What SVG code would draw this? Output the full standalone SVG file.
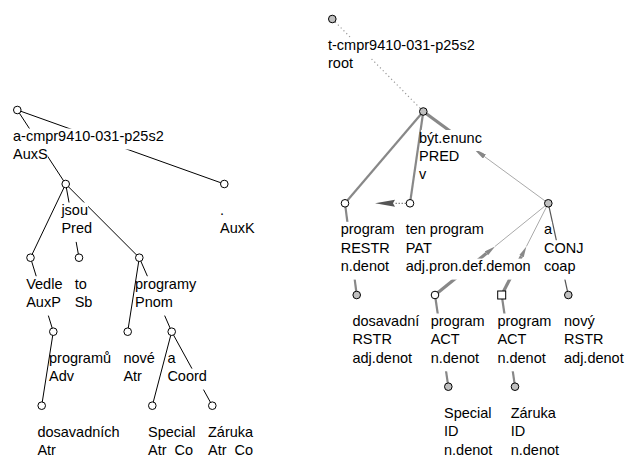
<svg xmlns="http://www.w3.org/2000/svg" width="625" height="457" viewBox="0 0 625 457">
<style>
.t{font-family:"Liberation Sans",Arial,sans-serif;font-size:14.5px;fill:#000}
.bg{fill:#fff}
.n{stroke:#000;stroke-width:1}
.w{fill:#fff}
.g{fill:#c0c0c0}
.e{stroke:#000;stroke-width:1;fill:none}
.te{stroke:#888;stroke-width:2.2;fill:none}
.thk{stroke:#888;stroke-width:3.2;fill:none}
.thn{stroke:#aaa;stroke-width:1;fill:none}
</style>
<defs>
<marker id="arw" viewBox="0 0 14 5" refX="0" refY="2.5" markerWidth="14" markerHeight="5" markerUnits="userSpaceOnUse" orient="auto"><path d="M0,0 L14,2.5 L0,5 Z" fill="#888"/></marker>
<marker id="arw2" viewBox="0 0 11 5" refX="0" refY="2.5" markerWidth="11" markerHeight="5" markerUnits="userSpaceOnUse" orient="auto"><path d="M0,0 L11,2.5 L0,5 Z" fill="#888"/></marker>
</defs>
<rect width="625" height="457" fill="#fff"/>
<g id="connectors">
<path class="e" d="M17.3,110 L65.7,184"/>
<path class="e" d="M17.3,110 L224.3,184"/>
<path class="e" d="M65.7,184 L30.5,257.7"/>
<path class="e" d="M65.7,184 L79,257.7"/>
<path class="e" d="M65.7,184 L139.3,257.7"/>
<path class="e" d="M30.5,257.7 L53.3,331.7"/>
<path class="e" d="M53.3,331.7 L41.7,405.7"/>
<path class="e" d="M139.3,257.7 L127.7,331.7"/>
<path class="e" d="M139.3,257.7 L171.7,331.7"/>
<path class="e" d="M171.7,331.7 L152.3,405.7"/>
<path class="e" d="M171.7,331.7 L212.3,405.7"/>
<path d="M332.3,19 L423.3,111.5" stroke="#999" stroke-width="1.2" stroke-dasharray="1.2,2.8" fill="none"/>
<path class="te" d="M423.3,111.5 L345,203.3"/>
<path class="te" d="M423.3,111.5 L410,203.3"/>
<path class="te" d="M345,203.3 L356.7,295"/>
<path class="te" d="M435,295 L448.3,386.7"/>
<path class="te" d="M501.7,295 L515,386.7"/>
<path d="M548.3,203.3 L568.3,295" stroke="#555" stroke-width="1.2" fill="none"/>
<path class="thk" d="M423.3,111.5 L468,144.3"/>
<path class="thn" d="M548.3,203.3 L484.5,156.6" marker-end="url(#arw)"/>
<path class="thn" d="M548.3,203.3 L495,246.4"/>
<path class="thk" d="M435,295 L486.5,253.3" marker-end="url(#arw2)"/>
<path class="thn" d="M548.3,203.3 L526.4,246.5"/>
<path class="thk" d="M501.7,295 L521.4,256.3" marker-end="url(#arw2)"/>
<path d="M406,203.3 L395,203.3" stroke="#888" stroke-width="1.2" stroke-dasharray="1.5,1.5" fill="none"/>
<polygon points="375,203.3 395,199.8 393,203.3 395,206.8" fill="#555"/>
</g>
<g id="a-root">
<rect class="bg" x="15" y="128.5" width="148.7" height="21"/><rect class="bg" x="15" y="146.9" width="32.7" height="21"/>
<text class="t" x="13" y="141">a-cmpr9410-031-p25s2</text><text class="t" x="13" y="159.4">AuxS</text>
<circle class="n w" cx="17.3" cy="110" r="3.8"/>
</g>
<g id="a-jsou">
<rect class="bg" x="63.4" y="202.5" width="24.6" height="21"/><rect class="bg" x="63.4" y="220.9" width="28.6" height="21"/>
<text class="t" x="61.4" y="215">jsou</text><text class="t" x="61.4" y="233.4">Pred</text>
<circle class="n w" cx="65.7" cy="184" r="3.8"/>
</g>
<g id="a-auxk">
<rect class="bg" x="222" y="202.5" width="2" height="21"/><rect class="bg" x="222" y="220.9" width="32.7" height="21"/>
<text class="t" x="220" y="215">.</text><text class="t" x="220" y="233.4">AuxK</text>
<circle class="n w" cx="224.3" cy="184" r="3.8"/>
</g>
<g id="a-vedle">
<rect class="bg" x="28.2" y="276.2" width="35.1" height="21"/><rect class="bg" x="28.2" y="294.6" width="32.7" height="21"/>
<text class="t" x="26.2" y="288.7">Vedle</text><text class="t" x="26.2" y="307.1">AuxP</text>
<circle class="n w" cx="30.5" cy="257.7" r="3.8"/>
</g>
<g id="a-to">
<rect class="bg" x="76.7" y="276.2" width="10.1" height="21"/><rect class="bg" x="76.7" y="294.6" width="15.7" height="21"/>
<text class="t" x="74.7" y="288.7">to</text><text class="t" x="74.7" y="307.1">Sb</text>
<circle class="n w" cx="79" cy="257.7" r="3.8"/>
</g>
<g id="a-programy">
<rect class="bg" x="137" y="276.2" width="59.2" height="21"/><rect class="bg" x="137" y="294.6" width="35.9" height="21"/>
<text class="t" x="135" y="288.7">programy</text><text class="t" x="135" y="307.1">Pnom</text>
<circle class="n w" cx="139.3" cy="257.7" r="3.8"/>
</g>
<g id="a-programu">
<rect class="bg" x="51" y="350.2" width="60" height="21"/><rect class="bg" x="51" y="368.6" width="23" height="21"/>
<text class="t" x="49" y="362.7">programů</text><text class="t" x="49" y="381.1">Adv</text>
<circle class="n w" cx="53.3" cy="331.7" r="3.8"/>
</g>
<g id="a-nove">
<rect class="bg" x="125.4" y="350.2" width="30.2" height="21"/><rect class="bg" x="125.4" y="368.6" width="16.5" height="21"/>
<text class="t" x="123.4" y="362.7">nové</text><text class="t" x="123.4" y="381.1">Atr</text>
<circle class="n w" cx="127.7" cy="331.7" r="3.8"/>
</g>
<g id="a-a">
<rect class="bg" x="169.4" y="350.2" width="6.1" height="21"/><rect class="bg" x="169.4" y="368.6" width="37.5" height="21"/>
<text class="t" x="167.4" y="362.7">a</text><text class="t" x="167.4" y="381.1">Coord</text>
<circle class="n w" cx="171.7" cy="331.7" r="3.8"/>
</g>
<g id="a-dosavadnich">
<rect class="bg" x="39.4" y="424.2" width="80.2" height="21"/><rect class="bg" x="39.4" y="442.6" width="16.5" height="21"/>
<text class="t" x="37.4" y="436.7">dosavadních</text><text class="t" x="37.4" y="455.1">Atr</text>
<circle class="n w" cx="41.7" cy="405.7" r="3.8"/>
</g>
<g id="a-special">
<rect class="bg" x="150" y="424.2" width="45.5" height="21"/><rect class="bg" x="150" y="442.6" width="43.1" height="21"/>
<text class="t" x="148" y="436.7">Special</text><text class="t" x="148" y="455.1">Atr_Co</text>
<circle class="n w" cx="152.3" cy="405.7" r="3.8"/>
</g>
<g id="a-zaruka">
<rect class="bg" x="210" y="424.2" width="43.1" height="21"/><rect class="bg" x="210" y="442.6" width="43.1" height="21"/>
<text class="t" x="208" y="436.7">Záruka</text><text class="t" x="208" y="455.1">Atr_Co</text>
<circle class="n w" cx="212.3" cy="405.7" r="3.8"/>
</g>
<g id="t-root">
<rect class="bg" x="330" y="37.5" width="144.7" height="21"/><rect class="bg" x="330" y="55.9" width="23" height="21"/>
<text class="t" x="328" y="50">t-cmpr9410-031-p25s2</text><text class="t" x="328" y="68.4">root</text>
<circle class="n g" cx="332.3" cy="19" r="3.8"/>
</g>
<g id="t-byt">
<rect class="bg" x="421" y="130" width="60.9" height="21"/><rect class="bg" x="421" y="148.4" width="38.3" height="21"/><rect class="bg" x="421" y="166.8" width="5.3" height="21"/>
<text class="t" x="419" y="142.5">být.enunc</text><text class="t" x="419" y="160.9">PRED</text><text class="t" x="419" y="179.3">v</text>
<circle class="n g" cx="423.3" cy="111.5" r="3.8"/>
</g>
<g id="t-program-restr">
<rect class="bg" x="342.7" y="221.8" width="52" height="21"/><rect class="bg" x="342.7" y="240.2" width="47.1" height="21"/><rect class="bg" x="342.7" y="258.6" width="46.4" height="21"/>
<text class="t" x="340.7" y="234.3">program</text><text class="t" x="340.7" y="252.7">RESTR</text><text class="t" x="340.7" y="271.1">n.denot</text>
<circle class="n w" cx="345" cy="203.3" r="3.8"/>
</g>
<g id="t-ten-program">
<rect class="bg" x="407.7" y="221.8" width="76.2" height="21"/><rect class="bg" x="407.7" y="240.2" width="26.2" height="21"/><rect class="bg" x="407.7" y="258.6" width="122.9" height="21"/>
<text class="t" x="405.7" y="234.3">ten program</text><text class="t" x="405.7" y="252.7">PAT</text><text class="t" x="405.7" y="271.1">adj.pron.def.demon</text>
<circle class="n w" cx="410" cy="203.3" r="3.8"/>
</g>
<g id="t-a">
<rect class="bg" x="546" y="221.8" width="6.1" height="21"/><rect class="bg" x="546" y="240.2" width="37.5" height="21"/><rect class="bg" x="546" y="258.6" width="29.4" height="21"/>
<text class="t" x="544" y="234.3">a</text><text class="t" x="544" y="252.7">CONJ</text><text class="t" x="544" y="271.1">coap</text>
<circle class="n g" cx="548.3" cy="203.3" r="3.8"/>
</g>
<g id="t-dosavadni">
<rect class="bg" x="354.4" y="313.5" width="64.9" height="21"/><rect class="bg" x="354.4" y="331.9" width="37.5" height="21"/><rect class="bg" x="354.4" y="350.3" width="57.7" height="21"/>
<text class="t" x="352.4" y="326">dosavadní</text><text class="t" x="352.4" y="344.4">RSTR</text><text class="t" x="352.4" y="362.8">adj.denot</text>
<circle class="n g" cx="356.7" cy="295" r="3.8"/>
</g>
<g id="t-program-act1">
<rect class="bg" x="432.7" y="313.5" width="52" height="21"/><rect class="bg" x="432.7" y="331.9" width="27" height="21"/><rect class="bg" x="432.7" y="350.3" width="46.4" height="21"/>
<text class="t" x="430.7" y="326">program</text><text class="t" x="430.7" y="344.4">ACT</text><text class="t" x="430.7" y="362.8">n.denot</text>
<circle class="n w" cx="435" cy="295" r="3.8"/>
</g>
<g id="t-program-act2">
<rect class="bg" x="499.4" y="313.5" width="52" height="21"/><rect class="bg" x="499.4" y="331.9" width="27" height="21"/><rect class="bg" x="499.4" y="350.3" width="46.4" height="21"/>
<text class="t" x="497.4" y="326">program</text><text class="t" x="497.4" y="344.4">ACT</text><text class="t" x="497.4" y="362.8">n.denot</text>
<rect class="n w" x="497.7" y="291" width="8" height="8"/>
</g>
<g id="t-novy">
<rect class="bg" x="566" y="313.5" width="28.6" height="21"/><rect class="bg" x="566" y="331.9" width="37.5" height="21"/><rect class="bg" x="566" y="350.3" width="57.7" height="21"/>
<text class="t" x="564" y="326">nový</text><text class="t" x="564" y="344.4">RSTR</text><text class="t" x="564" y="362.8">adj.denot</text>
<circle class="n g" cx="568.3" cy="295" r="3.8"/>
</g>
<g id="t-special">
<rect class="bg" x="446" y="405.2" width="45.5" height="21"/><rect class="bg" x="446" y="423.6" width="12.5" height="21"/><rect class="bg" x="446" y="442" width="46.4" height="21"/>
<text class="t" x="444" y="417.7">Special</text><text class="t" x="444" y="436.1">ID</text><text class="t" x="444" y="454.5">n.denot</text>
<circle class="n g" cx="448.3" cy="386.7" r="3.8"/>
</g>
<g id="t-zaruka">
<rect class="bg" x="512.7" y="405.2" width="43.1" height="21"/><rect class="bg" x="512.7" y="423.6" width="12.5" height="21"/><rect class="bg" x="512.7" y="442" width="46.4" height="21"/>
<text class="t" x="510.7" y="417.7">Záruka</text><text class="t" x="510.7" y="436.1">ID</text><text class="t" x="510.7" y="454.5">n.denot</text>
<circle class="n g" cx="515" cy="386.7" r="3.8"/>
</g>
</svg>
